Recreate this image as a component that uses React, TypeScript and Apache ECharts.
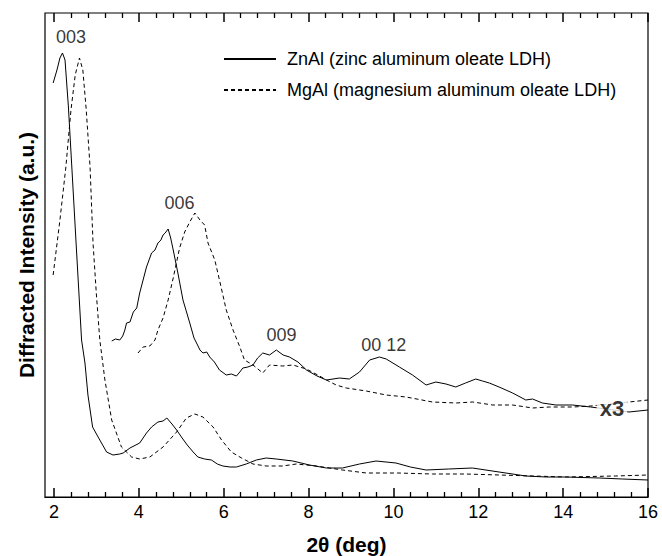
import React, { useEffect, useRef } from "react";
import * as echarts from "echarts";

// 2θ (deg) vs diffracted intensity (arbitrary units)
const ZNAL_NAME = "ZnAl (zinc aluminum oleate LDH)";
const MGAL_NAME = "MgAl (magnesium aluminum oleate LDH)";

const znAl: number[][] = [
  [1.98, 414], [2.07, 427], [2.14, 439], [2.2, 444], [2.26, 437], [2.34, 390], [2.42, 330],
  [2.53, 247], [2.65, 157], [2.73, 134], [2.8, 102], [2.91, 70], [3.04, 60], [3.24, 45],
  [3.39, 42], [3.55, 43], [3.63, 44], [3.79, 49], [4.02, 54], [4.18, 64], [4.3, 70],
  [4.45, 75], [4.57, 76], [4.66, 79], [4.78, 73], [4.89, 67], [5.02, 59], [5.14, 52],
  [5.28, 45], [5.39, 40], [5.55, 38], [5.71, 37], [5.85, 33], [5.98, 31], [6.15, 30],
  [6.3, 30], [6.53, 33], [6.77, 37], [7.0, 39], [7.24, 38], [7.63, 36], [8.02, 32],
  [8.42, 29], [8.8, 29], [9.2, 33], [9.59, 36], [10.06, 34], [10.4, 30], [10.77, 27],
  [11.3, 28], [11.86, 29], [12.49, 25], [13.12, 21], [13.6, 20], [14.06, 20], [14.85, 19],
  [15.4, 18], [16.0, 17],
];

const mgAl: number[][] = [
  [1.98, 222], [2.14, 277], [2.28, 330], [2.4, 387], [2.5, 422], [2.6, 439], [2.68, 427],
  [2.76, 387], [2.85, 330], [2.92, 254], [3.0, 202], [3.08, 157], [3.2, 117], [3.36, 77],
  [3.59, 50], [3.83, 40], [4.02, 38], [4.26, 40], [4.57, 50], [4.89, 65], [5.12, 79],
  [5.32, 83], [5.51, 80], [5.75, 70], [5.95, 57], [6.18, 45], [6.42, 39], [6.69, 33],
  [7.0, 31], [7.39, 31], [7.71, 33], [8.18, 31], [8.49, 29], [8.8, 27], [9.36, 24],
  [10.1, 24], [10.92, 23], [11.7, 23], [12.49, 22], [13.3, 21], [14.06, 20], [15.24, 21],
  [16.0, 22],
];

const znAlX3: number[][] = [
  [3.36, 156], [3.45, 158], [3.55, 157], [3.62, 161], [3.67, 167], [3.71, 174], [3.79, 175],
  [3.87, 185], [3.95, 189], [4.02, 204], [4.1, 217], [4.18, 230], [4.3, 244], [4.38, 247],
  [4.45, 254], [4.52, 257], [4.57, 262], [4.62, 264], [4.69, 268], [4.75, 259], [4.81, 247],
  [4.92, 224], [5.04, 197], [5.2, 174], [5.3, 159], [5.36, 154], [5.44, 147], [5.51, 144],
  [5.6, 145], [5.67, 140], [5.78, 135], [5.9, 127], [6.06, 122], [6.18, 123], [6.3, 121],
  [6.38, 125], [6.45, 129], [6.57, 130], [6.69, 132], [6.8, 139], [6.92, 144], [7.08, 142],
  [7.24, 147], [7.4, 142], [7.55, 140], [7.75, 135], [7.95, 127], [8.2, 121], [8.42, 117],
  [8.73, 119], [8.96, 118], [9.2, 125], [9.44, 137], [9.67, 140], [9.83, 138], [10.14, 130],
  [10.45, 122], [10.77, 112], [11.0, 115], [11.24, 113], [11.47, 110], [11.7, 114],
  [11.94, 118], [12.1, 116], [12.26, 114], [12.49, 110], [12.81, 104], [13.12, 97],
  [13.28, 98], [13.51, 94], [13.83, 92], [14.22, 92], [14.65, 90], [15.55, 85], [16.0, 87],
];

const mgAlX3: number[][] = [
  [3.98, 144], [4.1, 150], [4.26, 151], [4.38, 157], [4.45, 167], [4.57, 179], [4.69, 197],
  [4.81, 219], [4.96, 249], [5.08, 265], [5.2, 275], [5.32, 284], [5.44, 277], [5.55, 272],
  [5.63, 254], [5.79, 237], [5.9, 217], [6.06, 187], [6.22, 167], [6.38, 150], [6.49, 137],
  [6.69, 132], [6.92, 124], [7.08, 132], [7.39, 131], [7.63, 132], [7.95, 128], [8.26, 121],
  [8.42, 117], [8.65, 112], [8.89, 109], [9.36, 106], [9.83, 102], [10.3, 100], [10.92, 95],
  [11.47, 94], [11.87, 95], [12.34, 92], [12.81, 92], [13.28, 89], [13.67, 90], [14.22, 90],
  [14.65, 91], [15.55, 95], [16.0, 97],
];

const peakLabels = [
  { name: "003", value: [2.4, 460] },
  { name: "006", value: [4.96, 294] },
  { name: "009", value: [7.36, 162] },
  { name: "00 12", value: [9.77, 152] },
];
const scaleLabel = [{ name: "x3", value: [15.15, 89] }];

// Main axis range: x = 2 sits 9 px right of the frame's left edge
const X_MIN = 1.788;
const X_MAX = 16;
const TICK_MIN = 2;
const TICK_INTERVAL = 2;
const Y_MIN = 0;
const Y_MAX = 484;
const majorTicks = [2, 4, 6, 8, 10, 12, 14, 16];

const FONT = "Liberation Sans, Arial, Helvetica, sans-serif";

export default function App() {
  const ref = useRef<HTMLDivElement>(null);
  useEffect(() => {
    if (!ref.current) return;
    const chart = echarts.init(ref.current, undefined, { renderer: "svg" });
    const lineSeries = (name: string, data: number[][], dashed: boolean) => ({
      type: "line",
      name,
      data,
      xAxisIndex: 0,
      yAxisIndex: 0,
      symbol: "none",
      showSymbol: false,
      z: 2,
      lineStyle: { color: "#000", width: 1, type: dashed ? [4, 3] : "solid" },
      itemStyle: { color: "#000" },
    });
    // Tick-only axes on an overlay grid that starts exactly at x = 2
    const tickAxis = (position: "top" | "bottom") => ({
      type: "value",
      gridIndex: 1,
      position,
      min: TICK_MIN,
      max: X_MAX,
      interval: TICK_INTERVAL,
      axisLine: { show: false },
      axisLabel: { show: false },
      splitLine: { show: false },
      axisTick: { show: true, inside: true, length: 9, lineStyle: { color: "#000", width: 1.5 } },
      minorTick: { show: true, splitNumber: 5, length: 5, lineStyle: { color: "#000", width: 1.3 } },
      minorSplitLine: { show: false },
    });
    chart.setOption({
      animation: false,
      backgroundColor: "#fff",
      grid: [
        {
          left: 45,
          right: 14,
          top: 13,
          bottom: 59,
          show: true,
          borderColor: "#000",
          borderWidth: 1.2,
          outerBoundsMode: "none",
          containLabel: false,
        },
        {
          left: 54,
          right: 14,
          top: 13,
          bottom: 59,
          show: false,
          outerBoundsMode: "none",
          containLabel: false,
        },
      ],
      legend: {
        data: [ZNAL_NAME, MGAL_NAME],
        orient: "vertical",
        left: 218,
        top: 44,
        itemWidth: 52,
        itemHeight: 20,
        itemGap: 11,
        selectedMode: false,
        itemStyle: { opacity: 0 },
        textStyle: { fontFamily: FONT, fontSize: 18, color: "#000", lineHeight: 20, padding: [0, 0, 0, 6] },
      },
      xAxis: [
        {
          type: "value",
          gridIndex: 0,
          min: X_MIN,
          max: X_MAX,
          position: "bottom",
          splitLine: { show: false },
          axisLine: { show: true, lineStyle: { color: "#000", width: 1.2 } },
          axisTick: { show: false },
          axisLabel: { show: true, customValues: majorTicks, fontSize: 18, color: "#000", margin: 6, fontFamily: FONT },
          name: "2θ (deg)",
          nameLocation: "middle",
          nameGap: 37,
          nameTextStyle: { fontSize: 21, fontWeight: "bold", color: "#000", fontFamily: FONT },
        },
        tickAxis("bottom"),
        tickAxis("top"),
      ],
      yAxis: [
        {
          type: "value",
          gridIndex: 0,
          min: Y_MIN,
          max: Y_MAX,
          axisLine: { show: false },
          axisTick: { show: false },
          axisLabel: { show: false },
          splitLine: { show: false },
          name: "Diffracted Intensity (a.u.)",
          nameLocation: "middle",
          nameGap: 8,
          nameTextStyle: { fontSize: 21, fontWeight: "bold", color: "#000", fontFamily: FONT },
        },
        {
          type: "value",
          gridIndex: 1,
          min: Y_MIN,
          max: Y_MAX,
          axisLine: { show: false },
          axisTick: { show: false },
          axisLabel: { show: false },
          splitLine: { show: false },
        },
      ],
      series: [
        lineSeries(ZNAL_NAME, znAl, false),
        lineSeries(MGAL_NAME, mgAl, true),
        lineSeries(ZNAL_NAME, znAlX3, false),
        lineSeries(MGAL_NAME, mgAlX3, true),
        {
          type: "scatter",
          name: "peaks",
          xAxisIndex: 0,
          yAxisIndex: 0,
          data: peakLabels,
          symbolSize: 0,
          z: 5,
          label: { show: true, position: "inside", formatter: "{b}", fontSize: 18, color: "#000", fontFamily: FONT },
        },
        {
          type: "scatter",
          name: "scale",
          xAxisIndex: 0,
          yAxisIndex: 0,
          data: scaleLabel,
          symbolSize: 0,
          z: 5,
          label: {
            show: true,
            position: "inside",
            formatter: "{b}",
            fontSize: 22,
            fontWeight: "bold",
            color: "#000",
            fontFamily: FONT,
            backgroundColor: "#fff",
            padding: [1, 3],
          },
        },
      ],
    });
    return () => chart.dispose();
  }, []);
  return (
    <div ref={ref} style={{ position: "absolute", left: 0, top: 0, width: 662, height: 556 }} />
  );
}
